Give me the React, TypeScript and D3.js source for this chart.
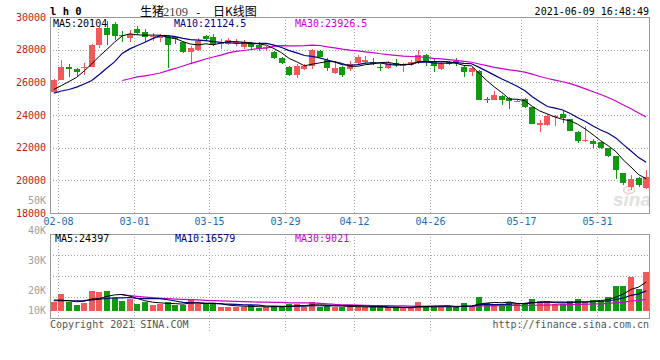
import React from "react";
import * as d3 from "d3";

const dates = ["02-05","02-08","02-09","02-10","02-18","02-19","02-22","02-23","02-24","02-25","02-26","03-01","03-02","03-03","03-04","03-05","03-08","03-09","03-10","03-11","03-12","03-15","03-16","03-17","03-18","03-19","03-22","03-23","03-24","03-25","03-26","03-29","03-30","03-31","04-01","04-02","04-06","04-07","04-08","04-09","04-12","04-13","04-14","04-15","04-16","04-19","04-20","04-21","04-22","04-23","04-26","04-27","04-28","04-29","04-30","05-06","05-07","05-10","05-11","05-12","05-13","05-14","05-17","05-18","05-19","05-20","05-21","05-24","05-25","05-26","05-27","05-28","05-31","06-01","06-02","06-03","06-04","06-07","06-08"];

const opens = [25430,26170,26920,26815,26880,26960,28285,29300,29550,28920,
  28740,29290,29110,28780,28700,28830,28800,28440,27860,27980,
  28840,28756,28330,28335,28408,28163,28390,28285,28080,27836,
  27510,26960,26449,26816,26970,27936,27367,26602,26938,26816,
  27183,27245,27250,26960,26870,27180,26980,27080,27200,27673,
  27306,26797,27250,27300,26920,26650,26681,24970,24918,25163,
  25022,24814,24961,24490,23369,23387,23859,24073,23736,22977,
  22389,22426,22365,21961,21490,20430,19592,20143,19561];

const closes = [26140,26920,26815,26650,26960,28285,29300,28900,28850,28860,
  28940,28990,28806,28860,28820,28285,28650,27860,28100,28560,
  28630,28328,28400,28591,28500,28469,28180,28040,28180,27469,
  27165,26449,27000,26970,27960,27569,26877,26908,26467,27100,
  27550,27367,27140,26900,27180,27060,27120,27230,27670,27324,
  26981,27202,27130,27200,26650,26858,24936,24920,25224,24918,
  24875,24875,24508,23467,23491,23969,23938,23798,23038,22400,
  22500,22200,22000,21480,20650,19850,20080,19700,20200];

const highs = [26200,27370,27100,26860,27160,28340,29360,29750,29710,29150,
  29200,29450,29250,28990,28950,28900,28860,28500,28220,28730,
  28900,28940,28650,28714,28683,28591,28490,28450,28245,27900,
  27550,27000,27150,27100,28070,27990,27490,27263,26980,27306,
  27673,27600,27470,27160,27300,27400,27160,27350,28000,27734,
  27400,27250,27300,27470,26980,26910,26740,25132,25469,25200,
  25100,24900,25040,24500,23693,24091,24000,24275,23760,22990,
  23357,22561,22400,21980,21500,20460,20296,20200,20633];

const lows = [25400,26140,26345,26345,26450,26940,28080,28285,28590,28480,
  28490,28900,28490,28560,28490,26880,28330,27780,27165,27918,
  28560,28224,28040,28285,28200,28040,28040,27918,27918,27400,
  27100,26400,26246,26755,26816,27540,26690,26490,26345,26694,
  27122,27165,27060,26700,26800,26950,26650,27020,27120,26980,
  26630,26750,27060,27000,26345,26387,24900,24716,24888,24612,
  24349,24780,24459,23440,22977,23326,23357,23528,23000,22285,
  22377,21961,21930,21400,20094,19714,19408,19600,19470];

const volumes = [6900,13700,6900,4000,5500,16700,15500,16700,10500,7800,
  9300,4900,6400,4300,4600,6900,4000,4000,9300,5200,
  4600,4600,2500,2500,2500,2500,4000,1000,1900,3100,
  2500,4600,4600,2500,6650,2500,3100,1900,1900,4000,
  1900,1900,1900,1900,1900,1900,1000,1000,6900,3100,
  3100,1900,1900,1900,6100,3100,11400,6100,4600,4600,
  6900,4600,4600,9300,7500,7500,4600,4600,7800,9300,
  6900,8400,7500,11400,20800,20800,28800,17900,33600];

const ma5Head = [25560, 25800, 26050, 26300];
const ma10Head = [25340, 25470, 25560, 25710, 25900, 26110, 26480, 26880, 27250];
const ma30HeadStart = 9;
const ma30Head = [26110, 26220, 26330, 26400, 26480, 26570, 26720, 26850, 27000, 27150, 27280, 27430, 27550, 27670, 27800, 27890, 27950, 28010, 28070, 28100];
const volMa5Head = [8400, 8400, 7800, 6900];
const volMa10Head = [7800, 7800, 7800, 7800, 7900, 8500, 9200, 9800, 10300];
const volMa30Head = [13000, 12300, 11600, 11000, 10500, 10000, 9600, 9300, 9000, 8800, 8500, 8200, 7900, 7700, 7400, 7200, 7000, 6800, 6600, 6500];

const priceTicks = [18000, 20000, 22000, 24000, 26000, 28000, 30000];
const dateTicks = ["02-08", "03-01", "03-15", "03-29", "04-12", "04-26", "05-17", "05-31"];
const volTickLabels = ["50K", "40K", "30K", "20K", "10K"];
const volTickValues = [50000, 40000, 30000, 20000, 10000];
const priceMaLabels = [["MA5", "20104"], ["MA10", "21124.5"], ["MA30", "23926.5"]];
const volMaLabels = [["MA5", "24397"], ["MA10", "16579"], ["MA30", "9021"]];

const RED = "#f25a5a";
const GREEN = "#109a10";
const MA_COLORS = ["#000000", "#000088", "#cc00cc"];
const MONO = "'DejaVu Sans Mono', monospace";

function movingAverage(values: number[], n: number, head: number[], headStart: number): (number | null)[] {
  return values.map((_, i) => {
    if (i >= n - 1) return d3.mean(values.slice(i - n + 1, i + 1)) as number;
    if (i >= headStart) return head[i - headStart];
    return null;
  });
}

export default function App() {
  const left = 50, right = 650;
  const mainTop = 17, mainBottom = 213;
  const volTop = 234, volBottom = 318, volBase = 309.5;

  const x = d3.scaleBand<string>().domain(dates).range([left, right]).paddingInner(0.21).paddingOuter(0.105);
  const step = x.step();
  const bw = x.bandwidth();
  const cx = (d: string) => (x(d) as number) + bw / 2;
  const gx = (d: string) => Math.round((x(d) as number) - (step - bw) / 2) + 0.5;

  const y = d3.scaleLinear().domain([18000, 30000]).range([mainBottom, mainTop]);
  const yv = d3.scaleLinear().domain([0, 2 * (d3.max(volumes) as number)]).range([volBase, volTop]);
  const yvLabel = d3.scaleLinear().domain([20000, 50000]).range([290.7, 200.7]);

  const ma5 = movingAverage(closes, 5, ma5Head, 0);
  const ma10 = movingAverage(closes, 10, ma10Head, 0);
  const ma30 = movingAverage(closes, 30, ma30Head, ma30HeadStart);
  const vma5 = movingAverage(volumes, 5, volMa5Head, 0);
  const vma10 = movingAverage(volumes, 10, volMa10Head, 0);
  const vma30 = movingAverage(volumes, 30, volMa30Head, ma30HeadStart);

  const lineFor = (vals: (number | null)[], scale: d3.ScaleLinear<number, number>) =>
    d3.line<number | null>()
      .defined((v) => v !== null)
      .x((_, i) => cx(dates[i]))
      .y((v) => scale(v as number))(vals) || "";

  const fl = (v: number) => Math.round(v) + 0.5;
  const hGridMain = priceTicks.slice(1, -1);
  const hGridVol = d3.range(1, 4).map((k) => volTop + ((volBottom - volTop) * k) / 4);

  return (
    <svg width={660} height={360} style={{ position: "absolute", left: 0, top: 0, background: "#fff" }}>
      <rect x={0} y={0} width={660} height={360} fill="#fff" />

      {/* title row */}
      <text x={50} y={15} fontFamily={MONO} fontWeight="bold" fontSize={10.5} fill="#000">l h 0</text>
      <text x={140} y={16} fontFamily="'Noto Sans CJK SC'" fontSize={12} fill="#000">生猪</text>
      <text x={163} y={16} fontFamily="'Liberation Serif', serif" fontSize={12.5} fill="#444">2109</text>
      <text x={195} y={16} fontFamily={MONO} fontSize={11} fill="#000">-</text>
      <text x={213} y={16} fontFamily="'Noto Sans CJK SC'" fontSize={12} fill="#000">日K线图</text>
      <text x={649} y={15} textAnchor="end" fontFamily={MONO} fontSize={10} fill="#000">2021-06-09 16:48:49</text>

      {/* watermark */}
      <g opacity={0.55}>
        <ellipse cx={629} cy={190} rx={5.5} ry={3.5} fill="none" stroke="#f0a0a0" strokeWidth={1.5} />
        <circle cx={629} cy={190} r={1.5} fill="#f0a0a0" />
        <text x={651} y={206} textAnchor="end" fontFamily="'Liberation Sans', sans-serif" fontStyle="italic" fontWeight="bold" fontSize={19} fill="#c8c8c8">sina</text>
      </g>

      {/* grids */}
      <g stroke="#a8a8a8" strokeDasharray="1,2" shapeRendering="crispEdges">
        {hGridMain.map((t) => (
          <line key={"hm" + t} x1={left} x2={right - 1} y1={fl(y(t))} y2={fl(y(t))} />
        ))}
        {hGridVol.map((v, k) => (
          <line key={"hv" + k} x1={left} x2={right - 1} y1={fl(v)} y2={fl(v)} />
        ))}
        {dateTicks.map((d) => (
          <g key={"vg" + d}>
            <line x1={gx(d)} x2={gx(d)} y1={mainTop} y2={mainBottom} />
            <line x1={gx(d)} x2={gx(d)} y1={volTop} y2={volBottom + 15} />
          </g>
        ))}
      </g>

      {/* volume bars */}
      <g shapeRendering="crispEdges">
        {dates.map((d, i) => {
          const up = closes[i] >= opens[i];
          const x0 = Math.round(x(d) as number);
          const top = yv(volumes[i]);
          return (
            <rect key={"v" + d} x={x0} y={top} width={Math.round(bw)} height={volBase + 1.2 - top} fill={up ? RED : GREEN} />
          );
        })}
      </g>

      {/* candles */}
      <g shapeRendering="crispEdges">
        {dates.map((d, i) => {
          const up = closes[i] >= opens[i];
          const col = up ? RED : GREEN;
          const x0 = Math.round(x(d) as number);
          const w = Math.round(bw);
          const top = y(Math.max(opens[i], closes[i]));
          const bot = y(Math.min(opens[i], closes[i]));
          return (
            <g key={"c" + d}>
              <rect x={x0 + Math.floor(w / 2) - 0.5 + 0.5} y={y(highs[i])} width={1} height={y(lows[i]) - y(highs[i])} fill={col} />
              <rect x={x0} y={top} width={w} height={Math.max(1, bot - top)} fill={col} />
            </g>
          );
        })}
      </g>

      {/* moving averages */}
      <g fill="none">
        <path d={lineFor(ma30, y)} stroke={MA_COLORS[2]} strokeWidth={1.2} />
        <path d={lineFor(ma10, y)} stroke={MA_COLORS[1]} strokeWidth={1.2} />
        <path d={lineFor(ma5, y)} stroke={MA_COLORS[0]} strokeWidth={1} />
        <path d={lineFor(vma30, yv)} stroke={MA_COLORS[2]} strokeWidth={1.2} />
        <path d={lineFor(vma10, yv)} stroke={MA_COLORS[1]} strokeWidth={1.2} />
        <path d={lineFor(vma5, yv)} stroke={MA_COLORS[0]} strokeWidth={1} />
      </g>

      {/* frames */}
      <g fill="none" stroke="#999" shapeRendering="crispEdges">
        <rect x={left + 0.5} y={mainTop + 0.5} width={right - left - 1} height={mainBottom - mainTop} />
        <rect x={left + 0.5} y={volTop + 0.5} width={right - left - 1} height={volBottom - volTop} />
      </g>

      {/* price axis labels */}
      {priceTicks.map((t) => (
        <text key={"pt" + t} x={46} y={y(t)} dy="0.35em" textAnchor="end" fontFamily={MONO} fontSize={10} fill="#b81c1c">{t}</text>
      ))}

      {/* volume axis labels */}
      {volTickLabels.map((lab, k) => (
        <text key={"vl" + lab} x={46} y={Math.min(yvLabel(volTickValues[k]), volBase + 1.2)} dy="0.35em" textAnchor="end" fontFamily={MONO} fontSize={10} fill="#a0a0a0">{lab}</text>
      ))}

      {/* date labels */}
      {dateTicks.map((d) => (
        <text key={"dl" + d} x={gx(d)} y={225} textAnchor="middle" fontFamily={MONO} fontSize={10} fill="#1a6db5">{d}</text>
      ))}

      {/* MA legends */}
      {priceMaLabels.map(([n, v], k) => (
        <text key={"pm" + n} x={[53, 174, 295][k]} y={26.5} fontFamily={MONO} fontSize={10} fill={MA_COLORS[k]}>{n + ":" + v}</text>
      ))}
      {volMaLabels.map(([n, v], k) => (
        <text key={"vm" + n} x={[55, 175, 295][k]} y={241.5} fontFamily={MONO} fontSize={10} fill={MA_COLORS[k]}>{n + ":" + v}</text>
      ))}

      {/* footer */}
      <text x={50} y={328} fontFamily={MONO} fontSize={10} fill="#555">Copyright 2021 SINA.COM</text>
      <text x={649} y={328} textAnchor="end" fontFamily={MONO} fontSize={10} fill="#555">http://finance.sina.com.cn</text>
    </svg>
  );
}
